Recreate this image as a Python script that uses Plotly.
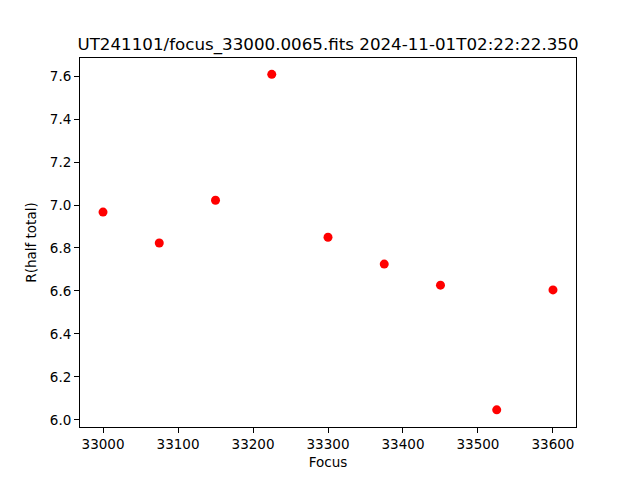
import plotly.graph_objects as go

focus = [33000, 33075, 33150, 33225, 33300, 33375, 33450, 33525, 33600]
r_half = [6.967, 6.823, 7.022, 7.608, 6.850, 6.725, 6.627, 6.047, 6.605]
title = "UT241101/focus_33000.0065.fits 2024-11-01T02:22:22.350"

fig = go.Figure(go.Scatter(x=focus, y=r_half, mode="markers",
                           marker=dict(color="red", size=9)))

W, H = 640, 480
L, R, T, B = 80, 576, 58, 427  # plot area in page pixels

axis_common = dict(showgrid=False, zeroline=False, showline=True, linecolor="black",
                   linewidth=1, mirror=True, ticks="outside", ticklen=5,
                   tickcolor="black", tickfont=dict(size=13.5, color="black"))
fig.update_layout(
    width=W, height=H,
    paper_bgcolor="white", plot_bgcolor="white",
    font=dict(family="DejaVu Sans", color="black"),
    margin=dict(l=L, r=W - R, t=T, b=H - B, autoexpand=False),
    title=dict(text=title, x=(L + R) / 2 / W, xanchor="center",
               y=1 - 44 / H, yanchor="middle", font=dict(size=16.7)),
    xaxis=dict(range=[32969.3, 33630.7], tickvals=list(range(33000, 33601, 100)),
               tickformat="d",
               title=dict(text="Focus", font=dict(size=13.5), standoff=6), **axis_common),
    yaxis=dict(range=[5.967, 7.684], tickvals=[6.0, 6.2, 6.4, 6.6, 6.8, 7.0, 7.2, 7.4, 7.6],
               tickformat=".1f",
               title=dict(text="R(half total)", font=dict(size=13.5), standoff=10), **axis_common),
    showlegend=False,
)
fig.write_html("out.html", config={"displayModeBar": False},
               post_script="document.body.style.margin='0';")
